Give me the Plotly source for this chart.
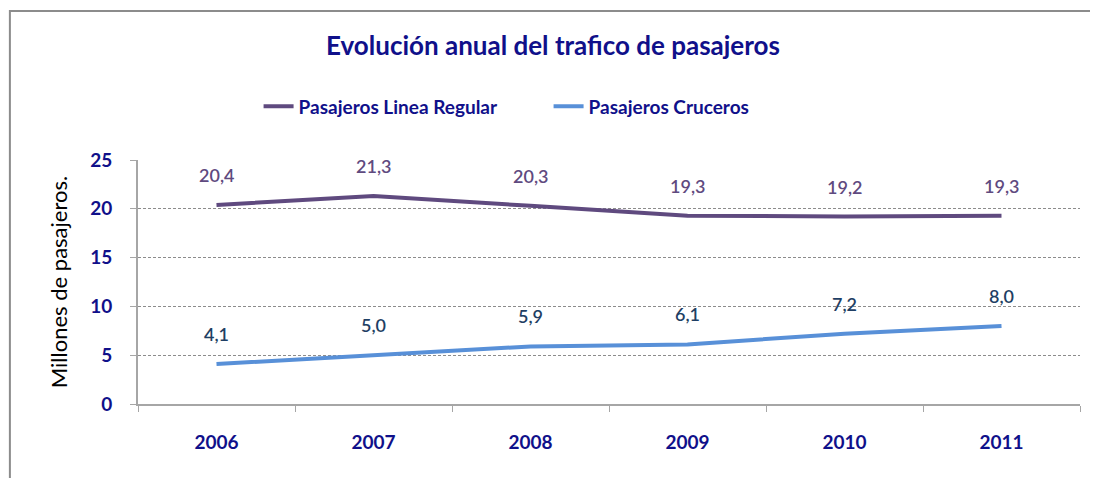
import plotly.graph_objects as go

years = ["2006", "2007", "2008", "2009", "2010", "2011"]
regular = [20.4, 21.3, 20.3, 19.3, 19.2, 19.3]
cruceros = [4.1, 5.0, 5.9, 6.1, 7.2, 8.0]
regular_labels = ["20,4", "21,3", "20,3", "19,3", "19,2", "19,3"]
cruceros_labels = ["4,1", "5,0", "5,9", "6,1", "7,2", "8,0"]
y_ticks = [0, 5, 10, 15, 20, 25]

FONT = "Lato"
NAVY = "#10108a"
PURPLE = "#5f4a7f"
BLUE = "#5890d8"
BLUE_LABEL = "#1f3f64"

fig = go.Figure()
fig.add_trace(go.Scatter(x=years, y=regular, mode="lines", name="<b>Pasajeros Linea Regular</b>",
                         line=dict(color=PURPLE, width=4)))
fig.add_trace(go.Scatter(x=years, y=cruceros, mode="lines", name="<b>Pasajeros Cruceros</b>",
                         line=dict(color=BLUE, width=4)))

annotations = []
for i, (y, t) in enumerate(zip(regular, regular_labels)):
    annotations.append(dict(x=i, y=y, xref="x", yref="y", text=t, showarrow=False, yshift=30,
                            font=dict(family=FONT, size=18, color=PURPLE, weight=600)))
for i, (y, t) in enumerate(zip(cruceros, cruceros_labels)):
    annotations.append(dict(x=i, y=y, xref="x", yref="y", text=t, showarrow=False, yshift=30,
                            font=dict(family=FONT, size=18, color=BLUE_LABEL, weight=600)))

fig.update_layout(
    width=1090, height=470,
    margin=dict(l=130, r=18, t=152, b=74),
    paper_bgcolor="white", plot_bgcolor="white",
    annotations=annotations,
    shapes=[dict(type="rect", xref="paper", yref="paper", x0=-0.136, x1=1.2, y0=-0.6, y1=1.611,
                 line=dict(color="#8c8c8c", width=2), layer="below")],
    title=dict(text="<b>Evolución anual del trafico de pasajeros</b>", x=0.5, xanchor="center",
               y=0.919, yanchor="middle",
               font=dict(family=FONT, size=26, color=NAVY)),
    legend=dict(orientation="h", x=0.128, xanchor="left", y=1.22, yanchor="middle",
                entrywidth=245, entrywidthmode="pixels",
                font=dict(family=FONT, size=19, color=NAVY), bgcolor="rgba(0,0,0,0)"),
    showlegend=True,
    xaxis=dict(type="category", range=[-0.5, 5.5], showline=True, linecolor="#a6a6a6", linewidth=2,
               ticks="outside", tickson="boundaries", ticklen=6, tickcolor="#a6a6a6", tickwidth=1,
               showgrid=False, ticklabelstandoff=20,
               tickfont=dict(family=FONT, size=19, color=NAVY, weight="bold")),
    yaxis=dict(range=[0, 25], tickvals=y_ticks, showline=True, linecolor="#a6a6a6", linewidth=2,
               ticks="outside", ticklen=6, tickcolor="#a6a6a6", showgrid=True,
               gridcolor="#8c8c8c", griddash="3px,2px", gridwidth=1, zeroline=False,
               ticklabelstandoff=14,
               tickfont=dict(family=FONT, size=19, color=NAVY, weight="bold"),
               title=dict(text="Millones de pasajeros.", standoff=16,
                          font=dict(family=FONT, size=22, color="black"))),
)

fig.write_html("out.html")
